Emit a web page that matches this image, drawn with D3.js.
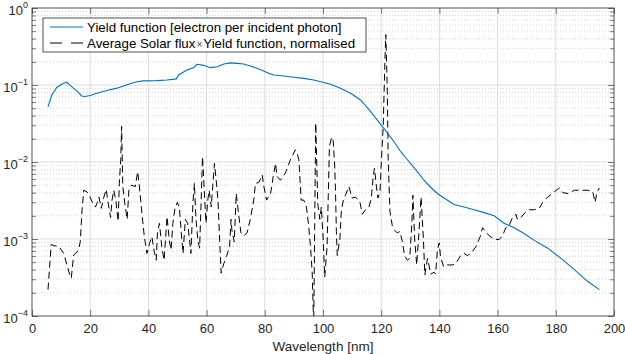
<!DOCTYPE html>
<html>
<head>
<meta charset="utf-8">
<script src="https://cdn.jsdelivr.net/npm/d3@7"></script>
<style>
  body { margin: 0; background: #fff; }
  svg { display: block; font-family: "Liberation Sans", Arial, Helvetica, sans-serif; }
</style>
</head>
<body>
<div id="chart"></div>
<script>
// Yield function (electron per incident photon)
const yieldWl = [5.5, 6.8, 8.5, 10.2, 11.9, 14.2, 15.4, 17.1, 18.2, 20, 22.3, 25.7, 29.2, 32.6, 36, 38.3, 42.9, 46.4, 49.6, 50.4, 53.2, 55.5, 56.7, 59, 61.3, 63.6, 65.9, 68.2, 70.5, 72.7, 75, 77.3, 79.6, 81.3, 83.1, 86.5, 90, 93.4, 96.8, 100.3, 102.6, 106, 109.5, 112.9, 116.4, 119.2, 120.9, 122.6, 124.4, 126.7, 129, 132.4, 134.7, 137, 139.3, 141.6, 145, 148.5, 151.9, 155.4, 158.8, 162.2, 165.7, 169.1, 172.6, 177.2, 181.8, 186.4, 191, 195];
const yieldVal = [0.052, 0.074, 0.093, 0.102, 0.109, 0.091, 0.084, 0.072, 0.071, 0.073, 0.078, 0.085, 0.091, 0.101, 0.110, 0.113, 0.114, 0.116, 0.120, 0.135, 0.157, 0.168, 0.186, 0.180, 0.168, 0.173, 0.187, 0.194, 0.191, 0.187, 0.177, 0.165, 0.152, 0.142, 0.135, 0.131, 0.126, 0.122, 0.116, 0.108, 0.102, 0.091, 0.078, 0.064, 0.045, 0.033, 0.0274, 0.0225, 0.0183, 0.0136, 0.0107, 0.0075, 0.0058, 0.0047, 0.0039, 0.0034, 0.0028, 0.0026, 0.0024, 0.0022, 0.0020, 0.0016, 0.0014, 0.00118, 0.00096, 0.00076, 0.00056, 0.00040, 0.00028, 0.00022];

// Average solar flux x yield function, normalised
const fluxWl = [5.5, 6.6, 7.5, 9.2, 10.9, 12.0, 12.9, 13.5, 14.3, 15.5, 16.0, 16.6, 17.2, 17.8, 18.9, 19.7, 20.9, 21.8, 22.3, 23.0, 23.8, 24.7, 25.5, 26.0, 27.0, 27.5, 28.1, 28.8, 29.6, 30.0, 30.5, 30.8, 31.2, 31.9, 32.7, 33.3, 34.2, 35.5, 36.3, 36.8, 37.8, 38.6, 39.5, 40.4, 41.2, 42.0, 42.7, 43.1, 43.8, 44.6, 45.4, 46.4, 47.2, 47.8, 48.4, 49.2, 50.0, 50.7, 51.3, 51.9, 52.7, 53.5, 54.2, 54.6, 55.3, 55.8, 56.3, 57.0, 57.6, 58.1, 58.6, 59.2, 59.8, 60.4, 60.9, 61.6, 62.2, 62.7, 63.3, 63.9, 64.5, 65.0, 65.9, 66.8, 67.9, 68.4, 68.7, 69.5, 70.2, 71.0, 71.8, 72.7, 73.9, 75.0, 76.2, 76.8, 77.9, 79.1, 79.6, 80.6, 82.0, 82.9, 83.7, 84.2, 85.4, 87.1, 88.8, 90.5, 91.1, 91.7, 92.5, 93.4, 94.3, 95.1, 95.7, 96.3, 96.8, 97.5, 98.2, 98.9, 99.4, 100.1, 100.6, 101.4, 102.2, 103.0, 103.5, 104.0, 104.3, 104.6, 104.9, 105.8, 106.3, 107.0, 107.7, 108.9, 110.0, 111.2, 112.7, 113.5, 114.6, 115.8, 116.6, 117.3, 117.7, 118.4, 118.9, 119.6, 120.0, 120.7, 121.3, 121.6, 122.1, 122.4, 123.0, 123.8, 124.6, 125.5, 126.4, 127.3, 128.0, 129.0, 129.8, 130.5, 130.9, 131.5, 132.2, 133.0, 133.7, 134.5, 135.0, 135.9, 136.4, 137.0, 138.2, 138.7, 139.3, 139.9, 140.4, 141.4, 142.7, 144.5, 145.6, 147.3, 148.5, 149.6, 150.8, 152.5, 154.0, 154.8, 155.9, 157.1, 158.8, 160.5, 161.7, 162.8, 164.0, 165.1, 166.3, 166.8, 168.0, 169.4, 170.9, 172.6, 174.3, 175.5, 177.2, 179.5, 181.2, 182.4, 184.2, 186.4, 188.6, 190.9, 192.7, 193.5, 194.2, 195.0];
const fluxVal = [2.2e-4, 8.5e-4, 8.2e-4, 8.0e-4, 6.5e-4, 4.6e-4, 3.5e-4, 3.1e-4, 6.2e-4, 6.8e-4, 7.2e-4, 9.3e-4, 2.4e-3, 4.3e-3, 4.1e-3, 3.7e-3, 2.9e-3, 2.6e-3, 2.9e-3, 3.5e-3, 2.5e-3, 3.5e-3, 4.4e-3, 3.2e-3, 1.9e-3, 3.2e-3, 4.3e-3, 3.2e-3, 1.7e-3, 5.3e-3, 1.07e-2, 2.9e-2, 4.8e-3, 2.9e-3, 1.8e-3, 4.3e-3, 5.0e-3, 4.8e-3, 7.5e-3, 5.3e-3, 2.1e-3, 1.07e-3, 6.5e-4, 8.8e-4, 1.07e-3, 6.9e-4, 5.3e-4, 1.2e-3, 1.6e-3, 7.9e-4, 5.3e-4, 1.95e-3, 9.5e-4, 7.2e-4, 1.6e-3, 2.6e-3, 3.0e-3, 2.4e-3, 1.2e-3, 6.5e-4, 1.8e-3, 1.6e-3, 9.2e-4, 6.5e-4, 2.9e-3, 5.3e-3, 1.95e-3, 9.5e-4, 7.6e-4, 2.9e-3, 1.17e-2, 4.3e-3, 1.6e-3, 3.2e-3, 4.3e-3, 2.6e-3, 5.3e-3, 9.6e-3, 5.8e-3, 3.2e-3, 9.5e-4, 3.6e-4, 4.8e-4, 5.9e-4, 7.9e-4, 1.8e-3, 1.3e-3, 9.2e-4, 3.9e-3, 2.1e-3, 1.2e-3, 1.1e-3, 1.2e-3, 1.8e-3, 3.2e-3, 5.3e-3, 5.4e-3, 6.8e-3, 5.0e-3, 3.2e-3, 3.9e-3, 6.5e-3, 9.6e-3, 6.5e-3, 5.8e-3, 7.2e-3, 1.07e-2, 1.44e-2, 1.3e-2, 1.07e-2, 3.2e-3, 3.2e-3, 2.6e-3, 1.45e-3, 7.9e-4, 3.6e-4, 7e-5, 3.2e-2, 2.9e-3, 1.8e-3, 2.6e-3, 9.5e-4, 3.2e-4, 7.9e-4, 1.6e-2, 2.1e-2, 1.9e-2, 9.1e-3, 4.1e-3, 1.25e-3, 6.1e-4, 1.0e-3, 2.3e-3, 3.2e-3, 3.7e-3, 4.8e-3, 3.4e-3, 3.5e-3, 3.0e-3, 2.1e-3, 2.4e-3, 2.6e-3, 3.4e-3, 6.8e-3, 8.3e-3, 4.6e-3, 3.4e-3, 4.1e-3, 9.1e-3, 3.0e-2, 0.22, 0.45, 0.082, 1.1e-2, 2.3e-3, 1.5e-3, 1.3e-3, 1.2e-3, 1.25e-3, 9.2e-4, 6.1e-4, 5.3e-4, 5.6e-4, 1.5e-3, 3.7e-3, 1.0e-3, 4.6e-4, 1.25e-3, 3.5e-3, 1.0e-3, 3.4e-4, 5.6e-4, 4.6e-4, 3.5e-4, 3.7e-4, 3.5e-4, 7.2e-4, 8.9e-4, 5.9e-4, 4.4e-4, 4.6e-4, 4.6e-4, 4.8e-4, 6.1e-4, 6.5e-4, 6.1e-4, 6.5e-4, 7.9e-4, 1.07e-3, 1.4e-3, 1.25e-3, 1.1e-3, 1.0e-3, 9.8e-4, 1.1e-3, 1.4e-3, 1.5e-3, 1.9e-3, 2.1e-3, 1.8e-3, 1.9e-3, 2.2e-3, 2.4e-3, 2.4e-3, 2.5e-3, 3.0e-3, 3.5e-3, 4.1e-3, 4.6e-3, 4.0e-3, 3.9e-3, 4.3e-3, 4.3e-3, 4.3e-3, 4.1e-3, 3.0e-3, 4.1e-3, 4.6e-3];

const xTicks = [0, 20, 40, 60, 80, 100, 120, 140, 160, 180, 200];
const yExponents = [-4, -3, -2, -1, 0];
const legendLabels = ["Yield function [electron per incident photon]", "Average Solar flux", "Yield function, normalised"];

const width = 625, height = 354;
const margin = { top: 8, right: 11, bottom: 38, left: 32 };
const innerW = width - margin.left - margin.right;
const innerH = height - margin.top - margin.bottom;

const axisColor = "#262626";
const fontFamily = "'Liberation Sans', Arial, Helvetica, sans-serif";

const svg = d3.select("#chart").append("svg").attr("width", width).attr("height", height);
const g = svg.append("g").attr("transform", `translate(${margin.left},${margin.top})`);

const x = d3.scaleLinear().domain([0, 200]).range([0, innerW]);
const y = d3.scaleLog().domain([1e-4, 1]).range([innerH, 0]);

const yMajor = yExponents.map(e => Math.pow(10, e));
const yMinor = [];
yExponents.slice(0, -1).forEach(e => {
    for (let k = 2; k <= 9; k++) yMinor.push(k * Math.pow(10, e));
});

// 网格
g.append("g").selectAll("line").data(yMinor).enter().append("line")
    .attr("x1", 0).attr("x2", innerW)
    .attr("y1", d => y(d)).attr("y2", d => y(d))
    .attr("stroke", "#b8b8b8").attr("stroke-width", 0.6).attr("stroke-dasharray", "1,2");
g.append("g").selectAll("line").data(yMajor.slice(1, -1)).enter().append("line")
    .attr("x1", 0).attr("x2", innerW)
    .attr("y1", d => y(d)).attr("y2", d => y(d))
    .attr("stroke", "#dcdcdc").attr("stroke-width", 1);
g.append("g").selectAll("line").data(xTicks.slice(1, -1)).enter().append("line")
    .attr("x1", d => x(d)).attr("x2", d => x(d))
    .attr("y1", 0).attr("y2", innerH)
    .attr("stroke", "#dcdcdc").attr("stroke-width", 1);

// 数据线
svg.append("defs").append("clipPath").attr("id", "plot-clip")
    .append("rect").attr("width", innerW).attr("height", innerH);

const yieldData = yieldWl.map((w, i) => ({ wl: w, value: yieldVal[i] }));
const fluxData = fluxWl.map((w, i) => ({ wl: w, value: fluxVal[i] }));
const line = d3.line().x(d => x(d.wl)).y(d => y(d.value));

const plot = g.append("g").attr("clip-path", "url(#plot-clip)");
plot.append("path").datum(fluxData)
    .attr("fill", "none").attr("stroke", "#000").attr("stroke-width", 1)
    .attr("stroke-dasharray", "7,4").attr("d", line);
plot.append("path").datum(yieldData)
    .attr("fill", "none").attr("stroke", "#0072BD").attr("stroke-width", 1.1).attr("d", line);

// 坐标轴 (刻度朝内)
const styleAxis = sel => {
    sel.select(".domain").remove();
    sel.selectAll(".tick line").attr("stroke", axisColor).attr("stroke-width", 0.6);
    sel.selectAll(".tick text").attr("fill", axisColor).style("font-size", "13px")
        .style("font-family", fontFamily);
};
g.append("g").attr("transform", `translate(0,${innerH})`)
    .call(d3.axisBottom(x).tickValues(xTicks).tickSize(-6).tickPadding(8)).call(styleAxis);
g.append("g")
    .call(d3.axisTop(x).tickValues(xTicks).tickSize(-6).tickFormat("")).call(styleAxis);
g.append("g").call(d3.axisLeft(y).tickValues(yMajor).tickSize(-6).tickFormat("")).call(styleAxis);
g.append("g").call(d3.axisLeft(y).tickValues(yMinor).tickSize(-4).tickFormat("")).call(styleAxis);
g.append("g").attr("transform", `translate(${innerW},0)`)
    .call(d3.axisRight(y).tickValues(yMajor).tickSize(-6).tickFormat("")).call(styleAxis);
g.append("g").attr("transform", `translate(${innerW},0)`)
    .call(d3.axisRight(y).tickValues(yMinor).tickSize(-4).tickFormat("")).call(styleAxis);

g.append("rect").attr("width", innerW).attr("height", innerH)
    .attr("fill", "none").attr("stroke", axisColor).attr("stroke-width", 0.8);

// Y 轴标签 10^n
const yLabels = g.append("g").selectAll("text").data(yExponents).enter().append("text")
    .attr("x", -4).attr("y", e => y(Math.pow(10, e)) + 7)
    .attr("text-anchor", "end").attr("fill", axisColor).style("font-size", "13px");
yLabels.append("tspan").text("10");
yLabels.append("tspan").attr("dy", -7).style("font-size", "9px").text(e => e === 0 ? "0" : "\u2212" + (-e));

// X 轴标题
g.append("text").attr("x", innerW / 2).attr("y", innerH + 35)
    .attr("text-anchor", "middle").attr("fill", axisColor).style("font-size", "13.5px")
    .text("Wavelength [nm]");

// 图例
const legend = g.append("g").attr("transform", "translate(11,10)");
legend.append("rect").attr("width", 323).attr("height", 34)
    .attr("fill", "#fff").attr("stroke", axisColor).attr("stroke-width", 0.8);
legend.append("line").attr("x1", 7).attr("x2", 40).attr("y1", 9).attr("y2", 9)
    .attr("stroke", "#0072BD").attr("stroke-width", 1.1);
legend.append("line").attr("x1", 7).attr("x2", 40).attr("y1", 25).attr("y2", 25)
    .attr("stroke", "#000").attr("stroke-width", 1).attr("stroke-dasharray", "12,9");
legend.append("text").attr("x", 44).attr("y", 13.5).attr("fill", "#000").style("font-size", "13.3px")
    .text(legendLabels[0]);
const l2 = legend.append("text").attr("x", 44).attr("y", 29.5).attr("fill", "#000").style("font-size", "13.3px");
l2.append("tspan").text(legendLabels[1]);
l2.append("tspan").attr("dx", 1).style("font-size", "10px").attr("fill", "#444").text("\u00d7");
l2.append("tspan").attr("dx", 1).text(legendLabels[2]);
</script>
</body>
</html>
